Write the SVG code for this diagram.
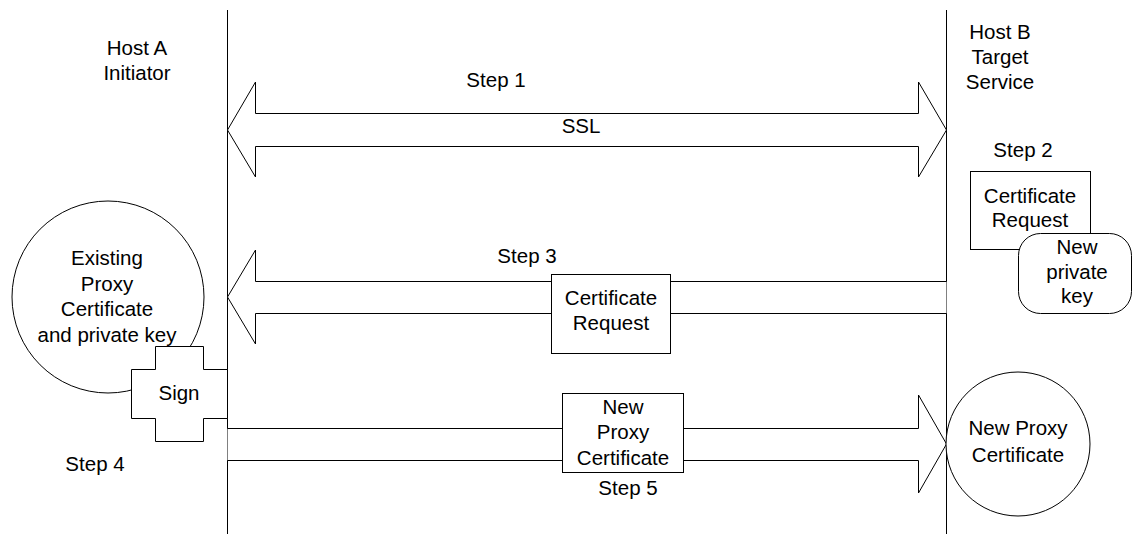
<svg xmlns="http://www.w3.org/2000/svg" width="1133" height="534" viewBox="0 0 1133 534">
<style>
.s{fill:#fff;stroke:#000;stroke-width:1}
.ln{fill:none;stroke:#000;stroke-width:1}
text{font-family:"Liberation Sans",Arial,sans-serif;font-size:20.5px;fill:#000;text-anchor:middle}
</style>
<rect width="1133" height="534" fill="#fff"/>
<g id="lifelines">
<line class="ln" x1="227.5" y1="10" x2="227.5" y2="534"/>
<line class="ln" x1="946.5" y1="10" x2="946.5" y2="534"/>
</g>
<g id="hostA"><text x="137" y="55">Host A</text><text x="137" y="80">Initiator</text></g>
<g id="hostB"><text x="1000" y="39">Host B</text><text x="1000" y="64">Target</text><text x="1000" y="89">Service</text></g>
<g id="connectors">
<path id="step1" class="s" d="M227.5,130 L255.5,82 L255.5,113.5 L918.5,113.5 L918.5,82 L946.5,130 L918.5,177 L918.5,146.5 L255.5,146.5 L255.5,177 Z"/>
<path id="step3" class="s" d="M946.5,281.5 L255.5,281.5 L255.5,250 L227.5,297 L255.5,344 L255.5,313.5 L946.5,313.5"/>
<path id="step5" class="s" d="M227.5,428.5 L918.5,428.5 L918.5,395 L946.5,444 L918.5,493 L918.5,460.5 L227.5,460.5"/>
</g>
<g id="labels">
<text x="496" y="87">Step 1</text>
<text x="581" y="133">SSL</text>
<text x="1023" y="157">Step 2</text>
<text x="527" y="263">Step 3</text>
<text x="95" y="471">Step 4</text>
<text x="628" y="495">Step 5</text>
</g>
<g id="existing">
<circle class="s" cx="108" cy="297" r="96"/>
<text x="107" y="265">Existing</text>
<text x="107" y="291">Proxy</text>
<text x="107" y="316">Certificate</text>
<text x="107" y="342">and private key</text>
</g>
<g id="sign">
<path class="s" d="M155.5,346.5 H203.5 V369.5 H227.5 V418.5 H203.5 V441.5 H155.5 V418.5 H131.5 V369.5 H155.5 Z"/>
<text x="179" y="400">Sign</text>
</g>
<g id="certreqB">
<rect class="s" x="970.5" y="171.5" width="120" height="78"/>
<text x="1030" y="203">Certificate</text>
<text x="1030" y="227">Request</text>
</g>
<g id="privkey">
<rect class="s" x="1018.5" y="233.5" width="113" height="80" rx="22" ry="22"/>
<text x="1077" y="254">New</text>
<text x="1077" y="279">private</text>
<text x="1077" y="303">key</text>
</g>
<g id="certreqMid">
<rect class="s" x="551.5" y="274.5" width="119" height="79"/>
<text x="611" y="305">Certificate</text>
<text x="611" y="330">Request</text>
</g>
<g id="newproxyMsg">
<rect class="s" x="562.5" y="393.5" width="121" height="79"/>
<text x="623" y="414">New</text>
<text x="623" y="439">Proxy</text>
<text x="623" y="465">Certificate</text>
</g>
<g id="newproxyB">
<circle class="s" cx="1018" cy="444" r="72"/>
<text x="1018" y="435">New Proxy</text>
<text x="1018" y="462">Certificate</text>
</g>
</svg>
